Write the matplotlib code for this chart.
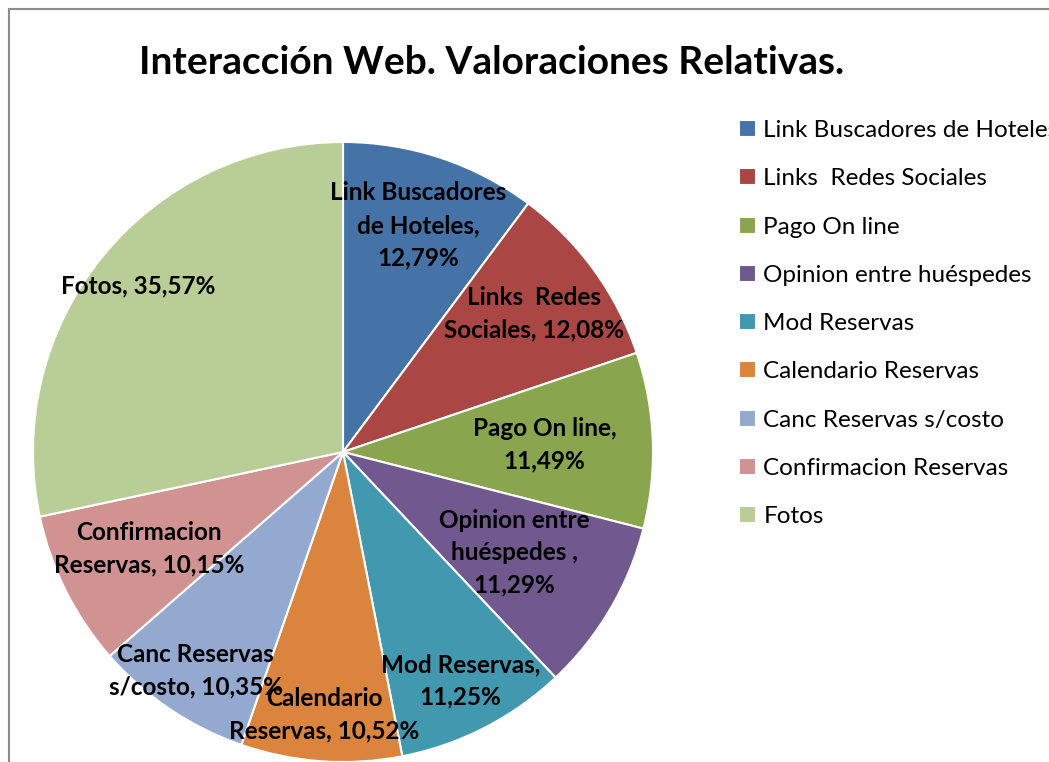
import matplotlib
matplotlib.use("Agg")
from matplotlib import pyplot as plt
from matplotlib.patches import Rectangle
import numpy as np

plt.rcParams['font.family'] = ['Lato', 'DejaVu Sans']

categorias = ["Link Buscadores de Hoteles", "Links  Redes Sociales", "Pago On line",
              "Opinion entre huéspedes", "Mod Reservas", "Calendario Reservas",
              "Canc Reservas s/costo", "Confirmacion Reservas", "Fotos"]
valores = [12.79, 12.08, 11.49, 11.29, 11.25, 10.52, 10.35, 10.15, 35.57]
etiquetas = ["Link Buscadores\nde Hoteles,\n12,79%", "Links  Redes\nSociales, 12,08%",
             "Pago On line,\n11,49%", "Opinion entre\nhuéspedes ,\n11,29%",
             "Mod Reservas,\n11,25%", "Calendario\nReservas, 10,52%",
             "Canc Reservas\ns/costo, 10,35%", "Confirmacion\nReservas, 10,15%",
             "Fotos, 35,57%"]
colores = ["#4572A7", "#AA4643", "#89A54E", "#71588F", "#4198AF",
           "#DB843D", "#93A9CF", "#D19392", "#B9CD96"]
# distancia de cada etiqueta desde el centro (fraccion del radio)
dist = [0.77, 0.76, 0.65, 0.64, 0.83, 0.85, 0.85, 0.70, 0.85]

W, H = 1049, 762
fig = plt.figure(figsize=(W / 100, H / 100), dpi=100)

# borde del area del grafico
fig.patches.append(Rectangle((9 / W, -0.1), 1.2, (H - 9) / H + 0.1, transform=fig.transFigure,
                             fill=False, edgecolor="#8c8c8c", linewidth=1.5))

cx, cy, r = 343, 452, 310
ax = fig.add_axes([(cx - r) / W, (H - cy - r) / H, 2 * r / W, 2 * r / H])
wedges, _ = ax.pie(valores, colors=colores, startangle=90, counterclock=False,
                   wedgeprops=dict(edgecolor="white", linewidth=1.5))
ax.set_xlim(-1, 1)
ax.set_ylim(-1, 1)
ax.set_aspect("equal")
ax.axis("off")

for w, txt, d in zip(wedges, etiquetas, dist):
    ang = np.deg2rad((w.theta1 + w.theta2) / 2)
    ax.text(d * np.cos(ang), d * np.sin(ang), txt, ha="center", va="center",
            fontsize=17.5, fontweight="bold", linespacing=1.5)

fig.text(492 / W, 1 - 63 / H, "Interacción Web. Valoraciones Relativas.", ha="center",
         va="center", fontsize=28, fontweight="bold")

fig.legend(wedges, categorias, loc="upper left", bbox_to_anchor=(727 / W, 1 - 108 / H),
           frameon=False, fontsize=17.5, handlelength=0.7, handleheight=0.7,
           handletextpad=0.3, labelspacing=1.12, borderpad=0)

fig.savefig("out.png", dpi=100)
